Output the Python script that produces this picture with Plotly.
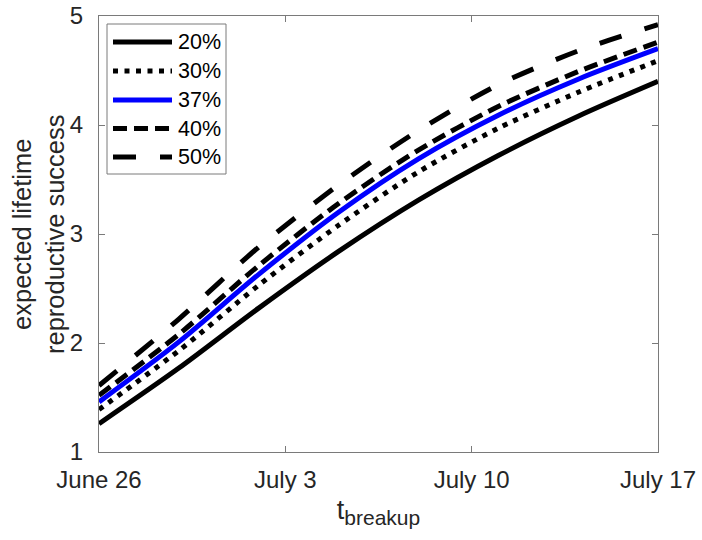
import plotly.graph_objects as go

# Breakup dates (every third day) and expected lifetime reproductive success
dates = ["2018-06-26", "2018-06-29", "2018-07-02", "2018-07-05",
         "2018-07-08", "2018-07-11", "2018-07-14", "2018-07-17"]

succ_20 = [1.26, 1.77, 2.32, 2.84, 3.31, 3.72, 4.08, 4.40]
succ_30 = [1.39, 1.93, 2.53, 3.08, 3.57, 3.97, 4.30, 4.59]
succ_37 = [1.46, 2.01, 2.63, 3.20, 3.69, 4.09, 4.42, 4.70]
succ_40 = [1.52, 2.08, 2.71, 3.28, 3.77, 4.17, 4.49, 4.76]
succ_50 = [1.61, 2.22, 2.88, 3.45, 3.95, 4.37, 4.68, 4.92]

labels = ["20%", "30%", "37%", "40%", "50%"]
series = [succ_20, succ_30, succ_37, succ_40, succ_50]
colors = ["#000000", "#000000", "#0000ff", "#000000", "#000000"]
dashes = ["solid", "5px,6.5px", "solid", "14px,7px", "23px,24px"]

tick_vals = ["2018-06-26", "2018-07-03", "2018-07-10", "2018-07-17"]
tick_text = ["June 26", "July 3", "July 10", "July 17"]

FONT = "Liberation Sans, Arial, Helvetica, sans-serif"
AXIS_COLOR = "#7a7a7a"
TEXT_COLOR = "#262626"
LINE_W = 5

W, H = 702, 540
ML, MR, MT, MB = 99, 44, 16, 88
PW, PH = W - ML - MR, H - MT - MB


def px_x(px):
    """Pixel column -> paper x."""
    return (px - ML) / PW


def px_y(py):
    """Pixel row -> paper y."""
    return (H - MB - py) / PH


fig = go.Figure()
for name, ys, col, dash in zip(labels, series, colors, dashes):
    fig.add_trace(go.Scatter(
        x=dates, y=ys, name=name, mode="lines", showlegend=False,
        line=dict(color=col, width=LINE_W, dash=dash, shape="spline", smoothing=0.8),
    ))

# Boxed legend drawn in paper coordinates (longer line samples than the built-in one)
shapes = [dict(type="rect", xref="paper", yref="paper",
               x0=px_x(107), x1=px_x(226), y0=px_y(174), y1=px_y(24),
               line=dict(color=AXIS_COLOR, width=1), fillcolor="white", layer="above")]
annotations = []
row_y = [42, 71, 100, 128.5, 157]
for name, col, dash, ry in zip(labels, colors, dashes, row_y):
    shapes.append(dict(type="line", xref="paper", yref="paper",
                       x0=px_x(113), x1=px_x(172), y0=px_y(ry), y1=px_y(ry),
                       line=dict(color=col, width=LINE_W, dash=dash), layer="above"))
    annotations.append(dict(xref="paper", yref="paper", x=px_x(176), y=px_y(ry),
                            xanchor="left", yanchor="middle", showarrow=False,
                            text=name, font=dict(family=FONT, size=21.5, color="#000000")))

# Two-line y-axis label
annotations.append(dict(xref="paper", yref="paper", x=px_x(38), y=0.5,
                        xanchor="center", yanchor="middle", showarrow=False,
                        textangle=-90,
                        text="expected lifetime<br>reproductive success",
                        font=dict(family=FONT, size=25.5, color=TEXT_COLOR)))

fig.update_layout(
    width=W, height=H,
    margin=dict(l=ML, r=MR, t=MT, b=MB, autoexpand=False),
    paper_bgcolor="white", plot_bgcolor="white",
    font=dict(family=FONT, size=24, color=TEXT_COLOR),
    showlegend=False,
    shapes=shapes,
    annotations=annotations,
)

fig.update_xaxes(
    type="date",
    range=["2018-06-26", "2018-07-17"],
    tickvals=tick_vals, ticktext=tick_text,
    ticks="inside", ticklen=6, tickcolor=AXIS_COLOR, tickwidth=1,
    showline=True, linecolor=AXIS_COLOR, linewidth=1, mirror="ticks",
    showgrid=False, zeroline=False, automargin=False,
    ticklabelstandoff=6,
    tickfont=dict(family=FONT, size=24, color=TEXT_COLOR),
    title=dict(text="t<sub><span style='font-size:21px'>breakup</span></sub>", standoff=8,
               font=dict(family=FONT, size=27, color=TEXT_COLOR)),
)

fig.update_yaxes(
    range=[1, 5],
    tickvals=[1, 2, 3, 4, 5],
    ticks="inside", ticklen=6, tickcolor=AXIS_COLOR, tickwidth=1,
    showline=True, linecolor=AXIS_COLOR, linewidth=1, mirror="ticks",
    showgrid=False, zeroline=False, automargin=False,
    ticklabelstandoff=10,
    tickfont=dict(family=FONT, size=24, color=TEXT_COLOR),
)

fig.write_html("out.html")
